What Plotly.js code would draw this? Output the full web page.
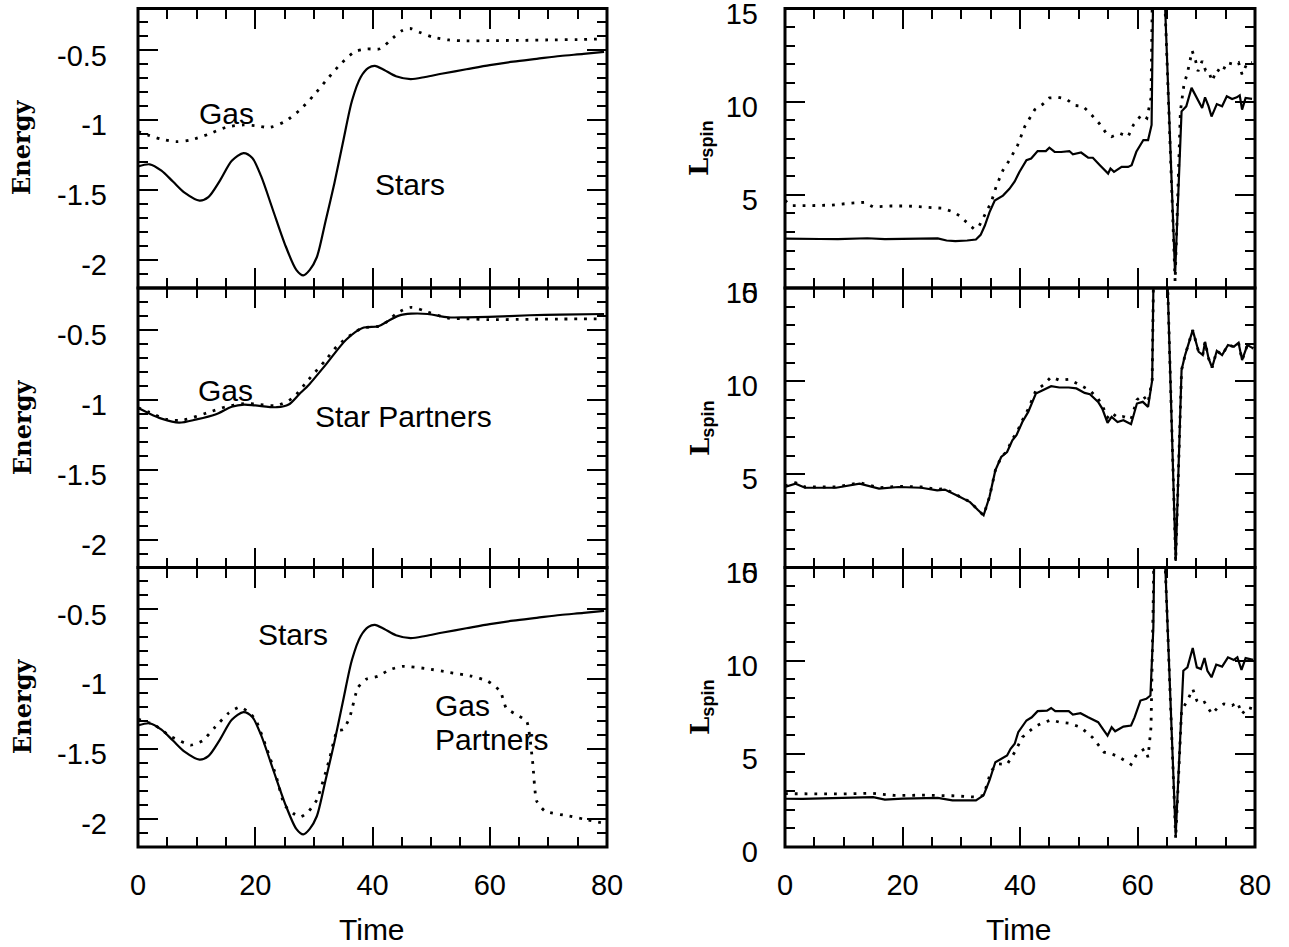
<!DOCTYPE html>
<html>
<head>
<meta charset="utf-8">
<script src="https://cdn.plot.ly/plotly-3.0.1.min.js"></script>
<style>html,body{margin:0;padding:0;background:#fff;}#chart{width:1289px;height:947px;}</style>
</head>
<body>
<div id="chart"></div>
<script>
// ---------------- DATA ----------------
// Energy panels (left column)
const tStars = [0,2,4,6,8,10.5,12,14,16,18,19.5,21,23,25,27,28.2,29.3,30.5,32,33.5,35,36.5,38,39.3,40.4,42,44,46.5,49,52,56,60,64,68,72,76,79.5];
const eStars = [-1.33,-1.315,-1.36,-1.44,-1.52,-1.575,-1.55,-1.43,-1.29,-1.235,-1.27,-1.40,-1.64,-1.88,-2.07,-2.11,-2.07,-1.98,-1.72,-1.45,-1.15,-0.86,-0.69,-0.625,-0.61,-0.64,-0.685,-0.705,-0.69,-0.665,-0.635,-0.605,-0.58,-0.56,-0.54,-0.525,-0.51];

const tGasTop = [0,2,4,6.5,9,12,15,18,20,22.5,25,27.5,30,32.2,34.5,37,39,41.3,43.5,45,46.4,48,50.3,53,56,60,65,70,75,79.5];
const eGasTop = [-1.08,-1.11,-1.135,-1.153,-1.14,-1.1,-1.05,-1.033,-1.038,-1.05,-1.01,-0.93,-0.82,-0.71,-0.6,-0.51,-0.49,-0.488,-0.41,-0.36,-0.343,-0.37,-0.405,-0.425,-0.432,-0.43,-0.428,-0.425,-0.422,-0.418];

const tStarPartners = [0,2,4,7,10,13.2,16,18.1,20,23.7,25.7,27.5,29.2,32,35.5,38.3,41,42.5,44.5,46.6,49.4,52.9,56,59.8,66.8,72,79.5];
const eStarPartners = [-1.057,-1.10,-1.135,-1.164,-1.14,-1.105,-1.05,-1.034,-1.04,-1.053,-1.034,-0.96,-0.89,-0.75,-0.57,-0.486,-0.474,-0.44,-0.398,-0.384,-0.386,-0.41,-0.41,-0.407,-0.395,-0.39,-0.386];

const tGasMid = [0,2,4.9,7.7,11.8,15,18,20,23.7,26.4,29,32,34.1,36.5,38.3,41,42.5,44.2,46.6,49.4,52.9,56,59.8,66.8,72,79.5];
const eGasMid = [-1.057,-1.09,-1.14,-1.145,-1.093,-1.05,-1.027,-1.03,-1.04,-0.986,-0.86,-0.716,-0.61,-0.53,-0.486,-0.474,-0.44,-0.379,-0.338,-0.372,-0.415,-0.42,-0.426,-0.424,-0.422,-0.421];

const tGasPartners = [0,2.8,5.6,9,11,13.2,15.5,17.4,19,20.1,22,23.6,25,26.5,27.8,29,30.5,32.6,34,35,36.1,37.5,38.9,40.9,43,45.1,49.3,53,56.9,59.7,61.8,62.8,64.5,66.3,67.3,68,69.4,73.6,76,79.5];
const eGasPartners = [-1.285,-1.326,-1.41,-1.471,-1.44,-1.34,-1.24,-1.198,-1.24,-1.293,-1.5,-1.698,-1.9,-1.96,-1.983,-1.95,-1.864,-1.58,-1.367,-1.36,-1.274,-1.06,-1.0,-0.978,-0.93,-0.907,-0.924,-0.95,-0.978,-1.014,-1.086,-1.205,-1.252,-1.30,-1.586,-1.871,-1.943,-1.979,-2.0,-2.03];

// L_spin panels (right column)
const tSpinTopS = [0,3,6,9,12,14,17,20,24,26,27.5,29,31,32.5,33.3,34,34.8,35.7,37.1,38.2,39.1,39.9,41.1,41.9,43,44.4,45,45.9,47,48.4,49,50.4,51.6,52.4,53.6,55,55.4,56,57.3,58.4,59,59.8,61,61.8,62.4,63,64,66.4,67.5,68.3,69.2,70.1,71,71.5,72.1,72.6,73.5,74.4,75.2,76.1,76.9,77.4,77.8,78.4,79.5];
const lSpinTopS = [2.65,2.62,2.63,2.62,2.66,2.67,2.62,2.63,2.64,2.66,2.55,2.52,2.55,2.6,2.85,3.34,4.06,4.69,4.96,5.32,5.72,6.23,6.86,6.95,7.35,7.35,7.53,7.31,7.3,7.35,7.18,7.27,6.99,6.99,6.59,6.14,6.41,6.23,6.5,6.5,6.59,7.31,7.94,7.94,8.75,25,21,0.72,9.48,9.75,10.74,10.2,9.66,10.23,9.75,9.2,9.87,9.75,10.29,10.14,10.23,10.34,9.57,10.2,10.15];

const tSpinTopG = [0,1,4,8,11,13.5,15,18,21,24,26.8,28.5,29.7,31,32.2,33,34,35.1,36,37.1,38.2,39.6,40.8,42.5,43.9,45,46.5,47.9,49.3,50.7,51.9,53.6,54.7,55.6,57,58.4,59.3,60.7,61.6,62.3,62.9,64,66.4,67.3,67.9,68.5,69.3,69.9,70.3,71,71.6,72.1,72.7,73.5,74.4,75.2,76.4,77.2,77.8,78.7,79.5];
const lSpinTopG = [4.7,4.42,4.42,4.45,4.55,4.6,4.35,4.4,4.4,4.35,4.28,4.1,3.88,3.5,3.16,3.3,3.9,4.6,5.5,6.32,6.86,7.67,8.66,9.57,9.87,10.2,10.23,10.14,9.8,9.75,9.39,8.79,8.3,8.12,8.3,8.12,8.75,9.3,9.11,10.2,25,21,0.36,9.48,10.9,11.55,12.73,12.18,11.64,12.18,11.67,11.64,11.1,11.73,11.55,12.1,12.0,12.1,11.46,12.1,12.1];

const tSpinMidS = [0,1.8,3.4,8.7,12.7,16,19.3,23.2,25.9,27.2,29.8,31.5,32.8,33.8,34.8,35.8,36.8,37.8,38.7,39.4,40.4,41.4,42.7,44,45.3,46.7,48.3,49.6,51,51.9,53.3,54,54.9,55.6,56.6,57.6,58.9,59.9,60.9,61.8,62.5,63.1,64.5,66.5,67.5,68.1,69.4,70.4,71.1,71.5,72.1,72.7,73.5,74.4,75.4,76.4,77.2,77.8,78.7,79.7];
const lSpinMidS = [4.32,4.5,4.28,4.28,4.5,4.23,4.32,4.28,4.14,4.18,3.78,3.51,3.1,2.8,3.78,5.21,5.93,6.2,6.83,7.1,7.81,8.35,9.34,9.52,9.73,9.66,9.66,9.61,9.37,9.3,8.89,8.53,7.76,8.08,7.81,7.9,7.69,8.8,8.89,8.62,10.05,25,22,0.35,10.6,11.4,12.74,11.58,11.4,12.11,11.22,10.73,11.63,11.4,11.94,11.85,12.06,11.13,11.94,11.76];

const tSpinMidG = [0,1.8,3.4,8.7,12.7,16,19.3,23.2,25.9,27.2,29.8,31.5,32.8,33.8,34.8,35.8,36.8,37.8,38.7,39.4,40.4,41.4,42.7,44,45.3,46.7,48.3,49.6,50.6,51.9,53.3,54,54.9,55.6,56.6,57.6,58.9,59.9,60.9,61.8,62.5,63.1,64.5,66.5,67.5,68.1,69.4,70.4,71.1,71.5,72.1,72.7,73.5,74.4,75.4,76.4,77.2,77.8,78.7,79.7];
const lSpinMidG = [4.38,4.55,4.32,4.32,4.55,4.28,4.36,4.32,4.2,4.22,3.8,3.52,3.1,2.8,3.78,5.21,5.93,6.25,6.9,7.2,7.9,8.5,9.5,9.8,10.23,10.05,10.1,9.9,9.73,9.5,9.05,8.7,8.05,8.3,8.05,8.1,7.95,9.0,9.25,8.85,10.1,25,22,0.35,10.6,11.4,12.74,11.58,11.4,12.11,11.22,10.73,11.63,11.4,11.94,11.85,12.06,11.13,11.94,11.76];

const tSpinBotS = [0,3,8,12,15,17,20,24,26,28.5,32.5,33.8,34.8,35.8,36.8,37.8,38.4,39.1,39.7,41.1,42,43,44.6,45.3,46,48.3,49,50.3,51.6,53.3,54.3,54.9,55.6,56.2,57.6,58.9,59.5,60.5,61.5,62.2,62.7,63.2,64,66.5,67.8,68.5,69.4,70.1,70.8,71.4,71.9,72.6,73.4,74.4,75.4,76.4,77,77.7,78.4,79.7];
const lSpinBotS = [2.59,2.58,2.62,2.66,2.68,2.54,2.6,2.62,2.64,2.5,2.5,2.77,3.57,4.55,4.73,4.91,5.27,5.54,6.16,6.79,6.96,7.29,7.32,7.46,7.29,7.29,7.11,7.18,6.96,6.7,6.25,5.98,6.43,6.21,6.46,6.52,6.96,7.86,7.95,8.13,11.8,25,21,0.63,9.46,9.64,10.68,9.64,9.55,10.14,9.46,9.11,9.79,9.68,10.18,10.04,10.18,9.5,10.14,10.04];

const tSpinBotG = [0,5,10,14.6,18.6,24,28.5,32.5,33.8,35.1,36.4,37.8,39.1,40.4,42.4,43.7,45.3,46.7,48.3,50.3,52.3,54.3,55.6,56.9,58.9,59.9,61.2,61.8,62.3,62.7,63.1,64,66.5,67.5,68.5,69.4,70.1,70.8,71.4,72.1,72.7,73.7,74.7,76.1,77,77.8,78.7,79.7];
const lSpinBotG = [2.86,2.84,2.85,2.89,2.77,2.78,2.75,2.68,2.77,4.1,4.46,4.43,5.09,5.89,6.43,6.64,6.82,6.7,6.64,6.43,5.89,5.09,5.0,4.82,4.43,5.0,5.27,4.82,6.43,13.6,25,21,0.45,7.32,7.86,8.48,7.86,7.68,7.77,7.41,7.14,7.5,7.68,7.59,7.77,7.14,7.5,7.41];

// Tick labels
const xTickVals = [0,20,40,60,80];
const xTickText = ['0','20','40','60','80'];
const eTickVals = [-2,-1.5,-1,-0.5];
const eTickText = ['-2','-1.5','-1','-0.5'];
const lTickVals = [0,5,10,15];
const lTickText = ['0','5','10','15'];

// ---------------- LAYOUT ----------------
const W = 1289, H = 947;
const colL = [138, 607], colR = [785, 1255];
const rows = [[8.5, 288], [288, 567.5], [567.5, 847]];
const px = v => v / W;
const py = v => 1 - v / H;

const SANS = 'Liberation Sans, Arial, Helvetica, sans-serif';
const tickFont = {family: SANS, size: 29, color: '#000'};

function xAxis(col, anchor, showLabels) {
  return {
    domain: [px(col[0]), px(col[1])], anchor: anchor,
    range: [0, 80], showgrid: false, zeroline: false,
    showline: false, mirror: 'ticks',
    ticks: 'inside', ticklen: 20, tickwidth: 2, tickcolor: '#000',
    tickmode: 'array', tickvals: xTickVals, ticktext: xTickText,
    showticklabels: showLabels, tickfont: tickFont, ticklabelstandoff: 18,
    ticklabeloverflow: 'allow',
    minor: {ticks: 'inside', ticklen: 10, tickwidth: 2, tickcolor: '#000', tickmode: 'linear', tick0: 0, dtick: 5, showgrid: false}
  };
}
function yAxisE(row, anchor) {
  return {
    domain: [py(row[1]), py(row[0])], anchor: anchor,
    range: [-2.2, -0.2], showgrid: false, zeroline: false,
    showline: false, mirror: 'ticks',
    ticks: 'inside', ticklen: 20, tickwidth: 2, tickcolor: '#000',
    tickmode: 'array', tickvals: eTickVals, ticktext: eTickText,
    tickfont: tickFont, ticklabelstandoff: 30, ticklabelshift: 5,
    ticklabeloverflow: 'allow',
    minor: {ticks: 'inside', ticklen: 10, tickwidth: 2, tickcolor: '#000', tickmode: 'linear', tick0: 0, dtick: 0.1, showgrid: false}
  };
}
function yAxisL(row, anchor) {
  return {
    domain: [py(row[1]), py(row[0])], anchor: anchor,
    range: [0, 15], showgrid: false, zeroline: false,
    showline: false, mirror: 'ticks',
    ticks: 'inside', ticklen: 20, tickwidth: 2, tickcolor: '#000',
    tickmode: 'array', tickvals: lTickVals, ticktext: lTickText,
    tickfont: tickFont, ticklabelstandoff: 26, ticklabelshift: 5,
    ticklabeloverflow: 'allow',
    minor: {ticks: 'inside', ticklen: 10, tickwidth: 2, tickcolor: '#000', tickmode: 'linear', tick0: 0, dtick: 1, showgrid: false}
  };
}

const solid = {color: '#000', width: 2.2};
const dotted = {color: '#000', width: 2.8, dash: '2.8px,7px'};
function tr(x, y, ax, ay, line, smooth) {
  const l = Object.assign({}, line);
  if (smooth) { l.shape = 'spline'; l.smoothing = smooth; }
  return {x: x, y: y, xaxis: ax, yaxis: ay, type: 'scatter', mode: 'lines', line: l, hoverinfo: 'skip'};
}

const data = [
  tr(tGasTop, eGasTop, 'x', 'y', dotted, 0.8),
  tr(tStars, eStars, 'x', 'y', solid, 0.8),
  tr(tGasMid, eGasMid, 'x2', 'y2', dotted, 0.8),
  tr(tStarPartners, eStarPartners, 'x2', 'y2', solid, 0.8),
  tr(tGasPartners, eGasPartners, 'x3', 'y3', dotted, 0.5),
  tr(tStars, eStars, 'x3', 'y3', solid, 0.8),
  tr(tSpinTopG, lSpinTopG, 'x4', 'y4', dotted),
  tr(tSpinTopS, lSpinTopS, 'x4', 'y4', solid),
  tr(tSpinMidG, lSpinMidG, 'x5', 'y5', dotted),
  tr(tSpinMidS, lSpinMidS, 'x5', 'y5', solid),
  tr(tSpinBotG, lSpinBotG, 'x6', 'y6', dotted),
  tr(tSpinBotS, lSpinBotS, 'x6', 'y6', solid)
];

// frame of every panel, drawn on its own plot area edges
const shapes = ['', '2', '3', '4', '5', '6'].map(s => ({
  type: 'rect', xref: 'x' + s + ' domain', yref: 'y' + s + ' domain',
  x0: 0, x1: 1, y0: 0, y1: 1, line: {color: '#000', width: 3}, fillcolor: 'rgba(0,0,0,0)', layer: 'above'
}));

function ann(text, x, y, opts) {
  return Object.assign({text: text, x: px(x), y: py(y), xref: 'paper', yref: 'paper',
    showarrow: false, xanchor: 'center', yanchor: 'middle',
    font: {family: SANS, size: 30, color: '#000'}}, opts || {});
}
const serif = {family: 'DejaVu Serif, serif', size: 24, color: '#000', weight: 'bold'};
const lspin = 'L<sub><span style="font-family:Liberation Sans, Arial, sans-serif;font-weight:bold">spin</span></sub>';
const rowCenters = [148, 428, 707];
const annotations = [];
rowCenters.forEach(c => {
  annotations.push(ann('Energy', 22, c, {textangle: -90, font: serif}));
  annotations.push(ann(lspin, 701, c, {textangle: -90, font: {family: 'DejaVu Serif, serif', size: 26, color: '#000', weight: 'bold'}}));
});
annotations.push(ann('Time', 372, 929));
annotations.push(ann('Time', 1019, 929));
annotations.push(ann('Gas', 226, 113));
annotations.push(ann('Stars', 410, 184));
annotations.push(ann('Gas', 225, 390));
annotations.push(ann('Star Partners', 403, 416));
annotations.push(ann('Stars', 293, 634));
annotations.push(ann('Gas', 433, 705, {xanchor: 'left'}));
annotations.push(ann('Partners', 433, 739, {xanchor: 'left'}));

const layout = {
  width: W, height: H,
  margin: {l: 0, r: 0, t: 0, b: 0, pad: 0},
  paper_bgcolor: '#fff', plot_bgcolor: '#fff',
  showlegend: false,
  xaxis:  xAxis(colL, 'y', false),
  yaxis:  yAxisE(rows[0], 'x'),
  xaxis2: xAxis(colL, 'y2', false),
  yaxis2: yAxisE(rows[1], 'x2'),
  xaxis3: xAxis(colL, 'y3', true),
  yaxis3: yAxisE(rows[2], 'x3'),
  xaxis4: xAxis(colR, 'y4', false),
  yaxis4: yAxisL(rows[0], 'x4'),
  xaxis5: xAxis(colR, 'y5', false),
  yaxis5: yAxisL(rows[1], 'x5'),
  xaxis6: xAxis(colR, 'y6', true),
  yaxis6: yAxisL(rows[2], 'x6'),
  shapes: shapes,
  annotations: annotations
};

Plotly.newPlot('chart', data, layout, {staticPlot: true, displayModeBar: false});
</script>
</body>
</html>
